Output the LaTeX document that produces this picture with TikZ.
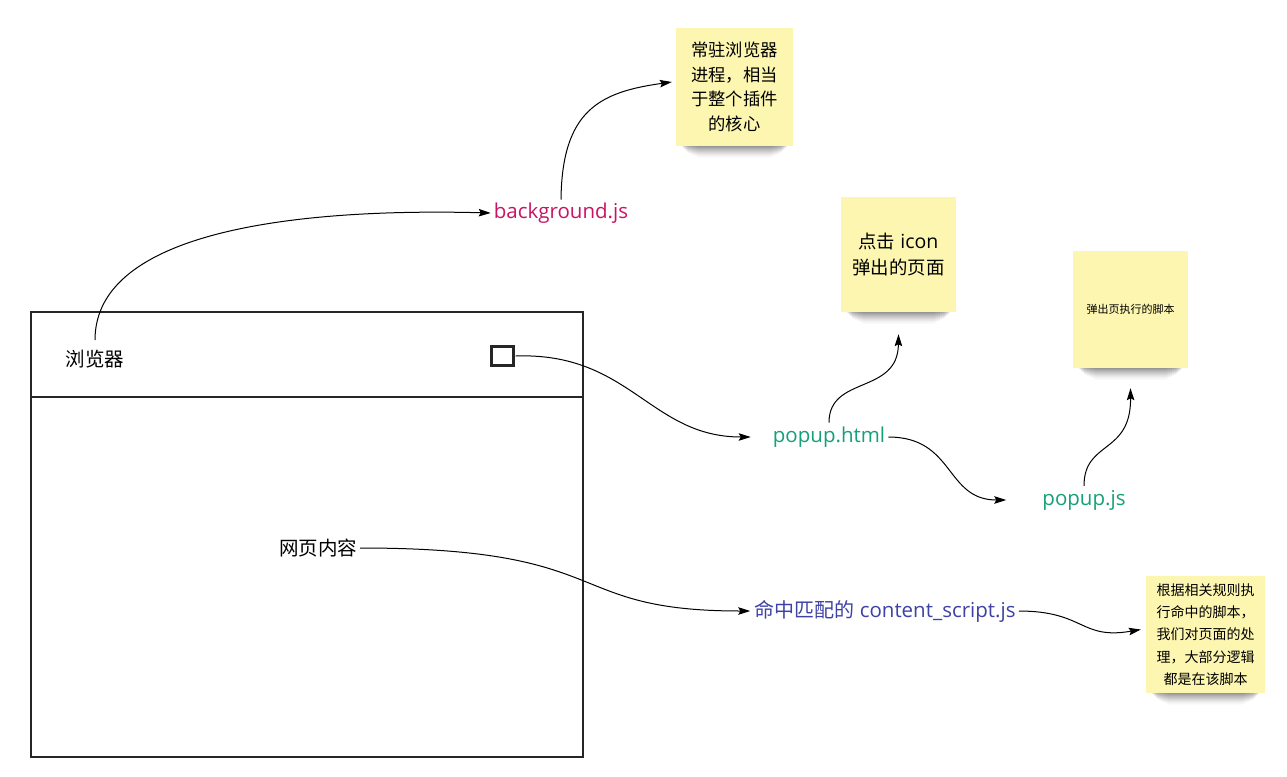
\documentclass[tikz,border=0pt]{standalone}
\usepackage{fontspec}
\setmainfont{Open Sans}
\newfontfamily\cjk{Noto Sans CJK SC}
\usetikzlibrary{arrows.meta,backgrounds}
\definecolor{stickyY}{RGB}{253,246,176}
\definecolor{bgmag}{RGB}{200,20,100}
\definecolor{popgreen}{RGB}{22,160,122}
\definecolor{csblue}{RGB}{62,66,165}
\tikzset{
  arr/.style={line width=1pt,-{Stealth[length=12pt,width=7.5pt,inset=2pt]}},
  frame/.style={draw=black!85,line width=2.4pt},
  sticky/.style={fill=stickyY,minimum width=117pt,minimum height=118pt,align=center,inner sep=2pt},
  lbl/.style={inner sep=2pt},
}
\begin{document}
\begin{tikzpicture}[x=1pt,y=-1pt]
\begin{scope}[on background layer]
\useasboundingbox[fill=white] (0,0) rectangle (1287,776);
\end{scope}
% browser frame
\draw[frame] (31,312) rectangle (583,757);
\draw[frame] (31,397) -- (583,397);
\node[draw=black!85,line width=2.4pt,minimum width=22pt,minimum height=19pt,inner sep=0] (sq) at (502.5,356) {};
\node[lbl,font=\cjk\fontsize{19.5}{22}\selectfont] (br) at (95,359) {浏览器};
\coordinate (bstart) at (95,340);
\node[lbl,font=\cjk\fontsize{19.5}{22}\selectfont] (wc) at (318,548) {网页内容};
% labels
\node[lbl,text=bgmag,font=\fontsize{20.5}{24}\selectfont] (bg) at (561,213) {background.js};
\node[lbl,text=popgreen,font=\fontsize{20.5}{24}\selectfont] (ph) at (829,437) {popup.html};
\node[lbl,text=popgreen,font=\fontsize{20.5}{24}\selectfont] (pj) at (1084,500) {popup.js};
\node[lbl,text=csblue,font=\fontsize{20.5}{24}\selectfont] (cs) at (885,611) {{\cjk\fontsize{20}{24}\selectfont 命中匹配的} content\_script.js};
% stickies
\node[sticky,font=\cjk\fontsize{17.3}{24.5}\selectfont] (s1) at (734.5,87) {常驻浏览器\\进程，相当\\于整个插件\\的核心};
\node[sticky,minimum width=115pt,minimum height=115pt,font=\fontsize{19.5}{26}\selectfont] (s2) at (898.5,254.5) {{\cjk\fontsize{18.4}{26}\selectfont 点击} icon\\{\cjk\fontsize{18.4}{26}\selectfont 弹出的页面}};
\node[sticky,minimum width=115pt,minimum height=117pt,font=\cjk\fontsize{11}{13}\selectfont] (s3) at (1130.5,309.5) {弹出页执行的脚本};
\node[sticky,minimum width=119pt,minimum height=117pt,font=\cjk\fontsize{14}{22.3}\selectfont] (s4) at (1205.5,634.5) {根据相关规则执\\行命中的脚本，\\我们对页面的处\\理，大部分逻辑\\都是在该脚本};
\begin{scope}[on background layer]
\foreach \n in {s1,s2,s3,s4}{
  \foreach \d/\o/\w in {1/0.07/6,2/0.06/7,3/0.06/8,4/0.05/9,5/0.05/10,6/0.04/11,7/0.04/12,8/0.03/14,9/0.03/16,10/0.02/18,11/0.02/20,12/0.015/22}{
    \fill[black,opacity=\o] ([xshift=\w pt,yshift=-\d pt]\n.south west) rectangle ([xshift=-\w pt,yshift=10pt]\n.south east);
  }
}
\end{scope}
% connectors
\draw[arr] (bstart) .. controls (95,230) and (300,208) .. ([xshift=-1pt]bg.west);
\draw[arr] ([yshift=1pt]bg.north) .. controls (562,110) and (600,92) .. ([xshift=-4pt,yshift=5pt]s1.west);
\draw[arr] ([xshift=1pt]sq.east) .. controls (630,352) and (650,437) .. ([xshift=-20pt]ph.west);
\draw[arr] ([yshift=2pt]ph.north) .. controls (829,375) and (898,395) .. ([yshift=-22pt]s2.south);
\draw[arr] ([xshift=1pt]ph.east) .. controls (955,437) and (945,500) .. ([xshift=-34pt]pj.west);
\draw[arr] ([yshift=2pt]pj.north) .. controls (1084,440) and (1131,455) .. ([yshift=-20pt]s3.south);
\draw[arr] ([xshift=1pt]wc.east) .. controls (620,548) and (560,611) .. ([xshift=-2pt]cs.west);
\draw[arr] ([xshift=1pt]cs.east) .. controls (1085,611) and (1080,640) .. ([xshift=-5pt,yshift=5pt]s4.west);
\end{tikzpicture}
\end{document}
